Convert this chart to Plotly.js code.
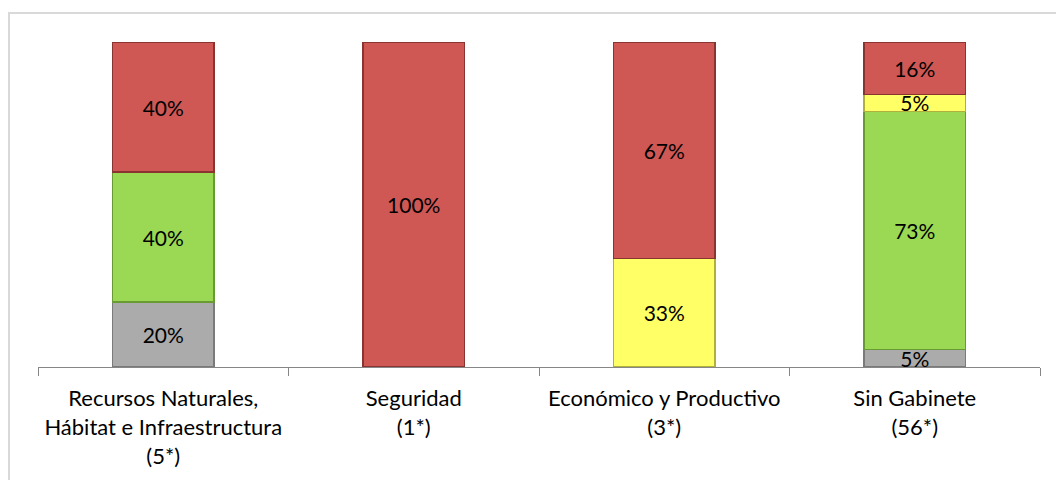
<!DOCTYPE html>
<html>
<head>
<meta charset="utf-8">
<script src="https://cdn.plot.ly/plotly-3.0.1.min.js"></script>
<style>
html,body{margin:0;padding:0;background:#fff;}
#frame{position:absolute;left:8px;top:12px;width:1100px;height:520px;border:2px solid #d9d9d9;box-sizing:border-box;}
#chart{position:absolute;left:0;top:0;width:1056px;height:480px;}
</style>
</head>
<body>
<div id="frame"></div>
<div id="chart"></div>
<script>
const categories = [
  "Recursos Naturales,<br>Hábitat e Infraestructura<br>(5*)",
  "Seguridad<br>(1*)",
  "Económico y Productivo<br>(3*)",
  "Sin Gabinete<br>(56*)"
];
const grayValues   = [20, null, null, 5.36];
const greenValues  = [40, null, null, 73.21];
const yellowValues = [null, null, 33.33, 5.36];
const redValues    = [40, 100, 66.67, 16.07];

const seriesDefs = [
  {name: "Gris", y: grayValues, color: "#ABABAB", line: "#7a7a7a"},
  {name: "Verde", y: greenValues, color: "#9BD954", line: "#6a9a34"},
  {name: "Amarillo", y: yellowValues, color: "#FFFF66", line: "#b0b03c"},
  {name: "Rojo", y: redValues, color: "#CF5855", line: "#8a3432"}
];

const traces = seriesDefs.map(s => ({
  type: "bar",
  name: s.name,
  x: categories,
  y: s.y,
  marker: {color: s.color, line: {color: s.line, width: 1.2}},
  text: s.y.map(v => v == null ? "" : Math.round(v) + "%"),
  textposition: "inside",
  insidetextanchor: "middle",
  textangle: 0,
  constraintext: "none",
  textfont: {family: "Lato, 'Open Sans', sans-serif", size: 21, color: "#000"},
  hoverinfo: "skip"
}));

const layout = {
  barmode: "stack",
  bargap: 0.595,
  showlegend: false,
  paper_bgcolor: "rgba(0,0,0,0)",
  plot_bgcolor: "rgba(0,0,0,0)",
  margin: {l: 38, r: 16, t: 42, b: 113},
  xaxis: {
    type: "category",
    showline: true,
    linecolor: "#868686",
    linewidth: 1,
    ticks: "outside",
    tickson: "boundaries",
    ticklen: 8,
    tickcolor: "#868686",
    ticklabelstandoff: 12,
    showgrid: false,
    tickfont: {family: "Lato, 'Open Sans', sans-serif", size: 22, color: "#000"}
  },
  yaxis: {
    range: [0, 100],
    visible: false,
    showgrid: false,
    zeroline: false
  },
  font: {family: "Lato, sans-serif"}
};

Plotly.newPlot("chart", traces, layout, {displayModeBar: false, staticPlot: true});
</script>
</body>
</html>
